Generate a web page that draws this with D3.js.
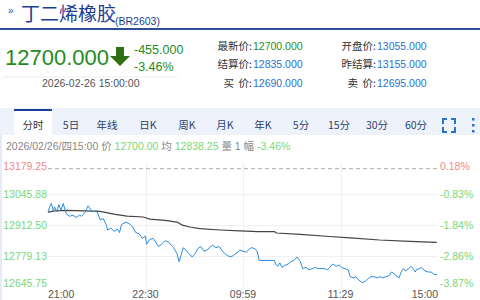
<!DOCTYPE html>
<html><head><meta charset="utf-8">
<script src="https://cdn.jsdelivr.net/npm/d3@7"></script>
<style>
html,body{margin:0;padding:0;background:#fff;}
svg{display:block;font-family:"Liberation Sans",Arial,"Noto Sans CJK SC",sans-serif;}
</style></head><body>
<svg id="c" width="480" height="300"></svg>
<script>
// ---- data ----
const title = "丁二烯橡胶";
const code = "(BR2603)";
const lastPrice = "12700.000";
const change = "-455.000";
const changePct = "-3.46%";
const quoteTime = "2026-02-26 15:00:00";
const infoLabels = ["最新价:", "结算价:", "买  价:", "开盘价:", "昨结算:", "卖  价:"];
const infoValues = ["12700.000", "12835.000", "12690.000", "13055.000", "13155.000", "12695.000"];
const tabs = ["分时", "5日", "年线", "日K", "周K", "月K", "年K", "5分", "15分", "30分", "60分"];
const prevSettle = 13155;
const yTicks = [13179.25, 13045.88, 12912.50, 12779.13, 12645.75];
const yPctLabels = ["0.18%", "-0.83%", "-1.84%", "-2.86%", "-3.87%"];
const xTickIdx = [0, 90, 180, 270, 360];
const xTickLabels = ["21:00", "22:30", "09:59", "11:29", "15:00"];
const totalMinutes = 360;
// price line (minute index, price)
const priceIdx = [0,2,3,5,6,8,10,12,14,16,17,20,23,26,29,31,34,37,40,42,45,48,51,54,55,58,61,64,66,68,72,76,78,81,84,87,90,91,94,97,100,102,105,108,111,114,116,119,121,123,125,127,130,133,136,138,141,144,147,150,152,155,158,161,163,166,169,172,175,177,180,183,186,188,191,193,195,209,210,212,214,216,219,222,224,227,230,233,235,238,241,244,247,249,252,255,258,260,263,266,269,271,274,277,279,282,284,287,290,293,295,298,301,304,306,309,312,315,317,319,321,324,326,328,330,333,335,337,339,340,343,345,348,351,354,356,359];
const priceVal = [12970,12995,13005,12975,12990,12970,13000,12975,13005,12975,12960,12950,12955,12945,12955,12950,12965,12995,12975,12970,12975,12935,12940,12910,12890,12900,12885,12895,12880,12915,12925,12915,12905,12880,12875,12855,12865,12830,12850,12855,12835,12820,12830,12845,12840,12825,12815,12790,12755,12785,12815,12805,12790,12775,12790,12810,12820,12800,12805,12820,12825,12815,12820,12800,12790,12780,12775,12785,12795,12805,12800,12795,12810,12815,12810,12800,12760,12760,12745,12735,12750,12730,12740,12745,12755,12760,12775,12755,12725,12730,12720,12725,12730,12725,12725,12725,12720,12730,12745,12735,12740,12730,12725,12720,12690,12685,12690,12675,12665,12670,12680,12690,12690,12685,12690,12685,12690,12695,12710,12705,12695,12685,12710,12725,12715,12725,12735,12725,12710,12720,12725,12730,12715,12710,12710,12700,12700];
// average line (minute index, avg price)
const avgIdx = [0,6,17,34,48,54,62,73,88,94,108,119,124,131,140,159,177,194,209,211,233,260,279,306,334,359];
const avgVal = [12968,12973,12975,12973,12971,12966,12958,12951,12947,12938,12932,12925,12912,12904,12897,12891,12887,12884,12884,12878,12872,12863,12857,12848,12842,12838];

// ---- drawing ----
const svg = d3.select("#c");
const green = "#1f8c23", blue = "#2468c8", lightGreen = "#79d879", red = "#f08a8a";

// header
svg.append("text").attr("x", 8).attr("y", 14).attr("font-size", 10).attr("fill", "#2a4e9a").text("»");
svg.append("text").attr("x", 21).attr("y", 21).attr("font-size", 19)
  .attr("font-family", "Noto Sans CJK SC").attr("fill", "#1d3e96").text(title);
svg.append("text").attr("x", 115).attr("y", 25).attr("font-size", 10.5).attr("fill", "#1d3e96").text(code);
svg.append("rect").attr("x", 0).attr("y", 28).attr("width", 480).attr("height", 2).attr("fill", "#2c4f94");

svg.append("text").attr("x", 5).attr("y", 65).attr("font-size", 22).attr("fill", green).text(lastPrice);
// down arrow
svg.append("path").attr("d", "M116,47 h8 v9 h6 l-10,10 l-10,-10 h6 z").attr("fill", "#2f6e12");
svg.append("text").attr("x", 134).attr("y", 54).attr("font-size", 12.5).attr("fill", green).text(change);
svg.append("text").attr("x", 134).attr("y", 71).attr("font-size", 12.5).attr("fill", green).text(changePct);
svg.append("line").attr("x1", 3).attr("x2", 178).attr("y1", 77).attr("y2", 77).attr("stroke", "#eeeeee");
svg.append("text").attr("x", 42).attr("y", 87).attr("font-size", 10.5).attr("fill", "#555").text(quoteTime);

const infoRows = [46, 64, 83];
infoLabels.forEach((l, i) => {
  const col = Math.floor(i / 3), row = i % 3;
  const lx = col === 0 ? 252 : 376;
  svg.append("text").attr("x", lx).attr("y", infoRows[row] + 4).attr("font-size", 10.5)
    .attr("text-anchor", "end").attr("fill", "#333").attr("font-family", "Noto Sans CJK SC")
    .attr("xml:space", "preserve").text(l);
  svg.append("text").attr("x", lx + 1).attr("y", infoRows[row] + 4).attr("font-size", 10.5)
    .attr("fill", i === 0 ? green : "#2a72d0").text(infoValues[i]);
});

// tab bar
svg.append("rect").attr("x", 0).attr("y", 108).attr("width", 480).attr("height", 192).attr("fill", "#fff");
svg.append("rect").attr("x", 0).attr("y", 108).attr("width", 2).attr("height", 192).attr("fill", "#e3ecf7");
svg.append("rect").attr("x", 0).attr("y", 108).attr("width", 480).attr("height", 27).attr("fill", "#eef3fb");
svg.append("rect").attr("x", 14).attr("y", 110).attr("width", 38).attr("height", 25).attr("fill", "#fff");
svg.append("rect").attr("x", 14).attr("y", 109).attr("width", 38).attr("height", 2).attr("fill", "#1d3e96");
const tabX = [33, 71, 107, 148, 187, 225, 263, 301, 339, 377, 416];
tabs.forEach((t, i) => {
  svg.append("text").attr("x", tabX[i]).attr("y", 129).attr("font-size", 10.5).attr("text-anchor", "middle")
    .attr("font-family", "Noto Sans CJK SC").attr("fill", i === 0 ? "#333" : "#2a3f6e").text(t);
});
// fullscreen icon
const fs = svg.append("g").attr("stroke", "#2a72d0").attr("stroke-width", 2).attr("fill", "none");
fs.append("path").attr("d", "M443,124 v-5 h4 M451,119 h4 v5 M455,127 v5 h-4 M447,132 h-4 v-5");
[119, 125, 131].forEach(y => svg.append("rect").attr("x", 472).attr("y", y - 1).attr("width", 2.5).attr("height", 2.5).attr("fill", "#2a72d0"));

// info line
const info = svg.append("text").attr("x", 6).attr("y", 150).attr("font-size", 10.5).attr("fill", "#888");
info.append("tspan").text("2026/02/26/四15:00 价 ");
info.append("tspan").attr("fill", lightGreen).text("12700.00");
info.append("tspan").text(" 均 ");
info.append("tspan").attr("fill", lightGreen).text("12838.25");
info.append("tspan").text(" 量 1 幅 ");
info.append("tspan").attr("fill", lightGreen).text("-3.46%");

// chart
const L = 48, R = 438, T = 163, B = 287;
const x = d3.scaleLinear().domain([0, totalMinutes]).range([L, R]);
const y = d3.scaleLinear().domain([yTicks[4], yTicks[0]]).range([B, T]);

const grid = svg.append("g").attr("stroke", "#f0f0f0").attr("stroke-width", 1);
yTicks.slice(1, 4).forEach(v => grid.append("line").attr("x1", L).attr("x2", R).attr("y1", Math.round(y(v)) + 0.5).attr("y2", Math.round(y(v)) + 0.5));
xTickIdx.slice(1, 4).forEach(v => grid.append("line").attr("x1", Math.round(x(v)) + 0.5).attr("x2", Math.round(x(v)) + 0.5).attr("y1", T).attr("y2", B));

svg.append("line").attr("x1", L).attr("x2", R).attr("y1", y(prevSettle)).attr("y2", y(prevSettle))
  .attr("stroke", "#bbbbbb").attr("stroke-width", 1.3).attr("stroke-dasharray", "4,3");

const labelY = v => Math.min(Math.max(y(v), T + 3), B - 4);
yTicks.forEach((v, i) => {
  const c = v > prevSettle ? red : lightGreen;
  svg.append("text").attr("x", 47).attr("y", labelY(v) + 4).attr("text-anchor", "end")
    .attr("font-size", 10.5).attr("fill", c).text(v.toFixed(2));
  svg.append("text").attr("x", 440).attr("y", labelY(v) + 4).attr("font-size", 10.5)
    .attr("fill", c).text(yPctLabels[i]);
});
xTickLabels.forEach((t, i) => {
  const anchor = i === 0 ? "start" : (i === xTickLabels.length - 1 ? "end" : "middle");
  svg.append("text").attr("x", x(xTickIdx[i])).attr("y", 298).attr("font-size", 10.5)
    .attr("text-anchor", anchor).attr("fill", "#555").text(t);
});

const line = d3.line().x(d => x(d[0])).y(d => y(d[1]));
svg.append("path").datum(avgIdx.map((v, i) => [v, avgVal[i]])).attr("d", line)
  .attr("fill", "none").attr("stroke", "#444").attr("stroke-width", 1.2);
svg.append("path").datum(priceIdx.map((v, i) => [v, priceVal[i]])).attr("d", line)
  .attr("fill", "none").attr("stroke", "#2b8be0").attr("stroke-width", 1);
</script>
</body></html>
